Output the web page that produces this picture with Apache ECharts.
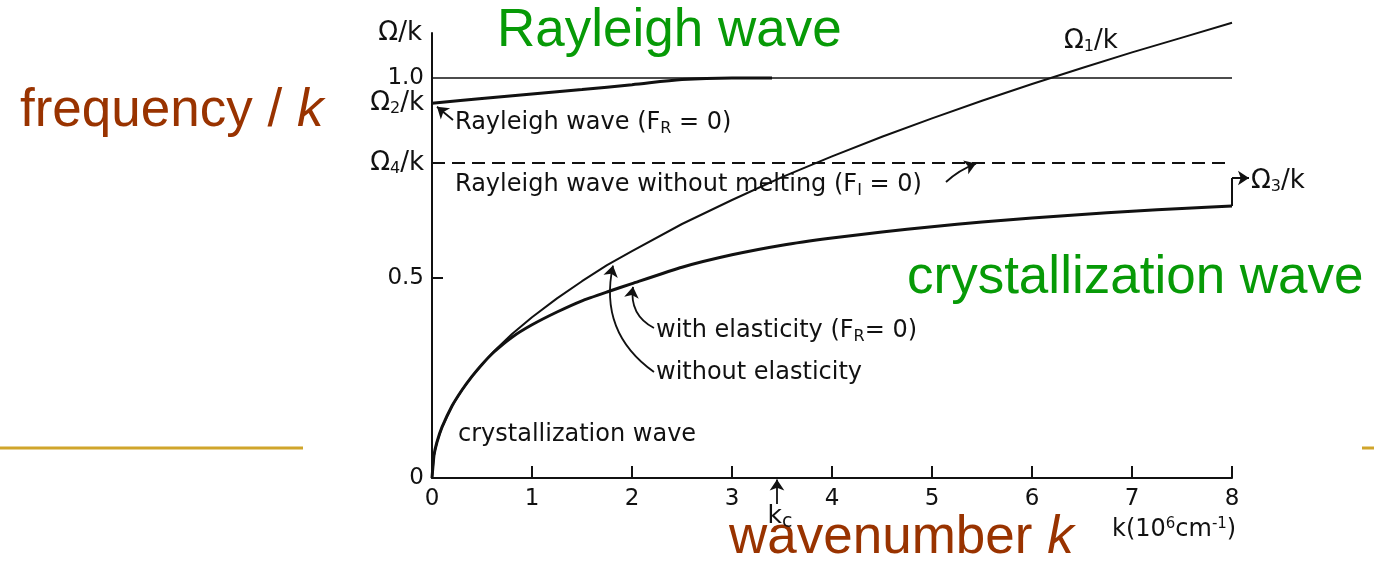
<!DOCTYPE html>
<html>
<head>
<meta charset="utf-8">
<script src="https://cdn.jsdelivr.net/npm/echarts@6/dist/echarts.min.js"></script>
<style>html,body{margin:0;padding:0;background:#fff}#c{width:1374px;height:561px}</style>
</head>
<body>
<div id="c"></div>
<script>
// ---- data ----
const kValues            = [0, 0.02, 0.05, 0.1, 0.2, 0.3, 0.4, 0.5, 0.62, 0.8, 1.0, 1.25, 1.5, 1.75, 2.0, 2.5, 3.0, 3.5, 4.0, 4.5, 5.0, 5.5, 6.0, 6.5, 7.0, 7.5, 8.0];
const withElasticity     = [0, 0.057, 0.09, 0.127, 0.18, 0.22, 0.254, 0.284, 0.315, 0.352, 0.383, 0.415, 0.443, 0.465, 0.486, 0.527, 0.558, 0.582, 0.600, 0.615, 0.628, 0.640, 0.650, 0.659, 0.667, 0.674, 0.680];
const withoutElasticity  = [0, 0.057, 0.09, 0.127, 0.18, 0.22, 0.254, 0.284, 0.317, 0.360, 0.402, 0.449, 0.492, 0.532, 0.567, 0.635, 0.695, 0.752, 0.804, 0.853, 0.899, 0.943, 0.985, 1.025, 1.064, 1.101, 1.138];
const rayleighK          = [0, 0.5, 1.0, 1.5, 2.0, 2.5, 3.0, 3.4];
const rayleighValues     = [0.937, 0.949, 0.960, 0.971, 0.983, 0.996, 1.0, 1.0];
const levelOne    = 1.0;
const omega2      = 0.937;
const omega4      = 0.7875;
const omega3      = 0.75;
const kc          = 3.45;
const xTickLabels = ['0','1','2','3','4','5','6','7','8'];
const yLabelValues = [0, 0.5, omega4, omega2, levelOne];

const FONT = 'DejaVu Sans';
const INK = '#111111';
const GREEN = '#079a07';
const BROWN = '#993300';
const GOLD = '#d0a52b';

const pairs = (xs, ys) => xs.map((x, i) => [x, ys[i]]);
const lastLow = withElasticity[withElasticity.length - 1];

const axisRich = {
  o: { fontFamily: FONT, fontSize: 23, color: INK },
  w: { fontFamily: FONT, fontSize: 26, color: INK },
  s: { fontFamily: FONT, fontSize: 16, color: INK, padding: [11, 0, 0, 0] }
};
const annRich = {
  o: { fontFamily: FONT, fontSize: 24, fill: INK },
  w: { fontFamily: FONT, fontSize: 26, fill: INK },
  k: { fontFamily: FONT, fontSize: 25, fill: INK },
  s: { fontFamily: FONT, fontSize: 16, fill: INK, padding: [11, 0, 0, 0] },
  c: { fontFamily: FONT, fontSize: 19, fill: INK, padding: [13, 0, 0, 0] },
  p: { fontFamily: FONT, fontSize: 15, fill: INK, padding: [0, 0, 12, 0] }
};
const bigRich = {
  a: { fontFamily: 'Liberation Sans', fontSize: 53, fill: BROWN },
  b: { fontFamily: 'Liberation Sans', fontSize: 53, fontStyle: 'italic', fill: BROWN }
};

const chart = echarts.init(document.getElementById('c'), null, { renderer: 'canvas' });

const option = {
  animation: false,
  backgroundColor: '#ffffff',
  grid: { left: 432, right: 142, top: 33, bottom: 83, containLabel: false },
  xAxis: {
    type: 'value', min: 0, max: 8, interval: 1,
    axisLine: { lineStyle: { color: INK, width: 2 } },
    axisTick: { inside: true, length: 12, lineStyle: { color: INK, width: 2 } },
    axisLabel: { margin: 10, fontSize: 23, fontFamily: FONT, color: INK,
      formatter: v => xTickLabels[Math.round(v)] },
    splitLine: { show: false }
  },
  yAxis: {
    type: 'value', min: 0, max: 1.1125,
    name: '{w|Ω/k}', nameLocation: 'end', nameGap: 0,
    nameTextStyle: { align: 'right', verticalAlign: 'middle', padding: [0, 10, 0, 0], rich: axisRich },
    axisLine: { show: true, onZero: false, lineStyle: { color: INK, width: 2 } },
    axisTick: { show: true, inside: true, length: 11, customValues: [0.5], lineStyle: { color: INK, width: 2 } },
    axisLabel: {
      margin: 8, fontSize: 23, fontFamily: FONT, color: INK, customValues: yLabelValues,
      formatter: v => {
        if (Math.abs(v - levelOne) < 1e-6) return '{o|1.0}';
        if (Math.abs(v - omega2) < 1e-6) return '{w|Ω}{s|2}{w|/k}';
        if (Math.abs(v - omega4) < 1e-6) return '{w|Ω}{s|4}{w|/k}';
        if (Math.abs(v - 0.5) < 1e-6) return '{o|0.5}';
        return '{o|0}';
      },
      rich: axisRich
    },
    splitLine: { show: false }
  },
  series: [
    { type: 'line', name: 'unity', data: [[0, levelOne], [8, levelOne]], symbol: 'none',
      lineStyle: { color: INK, width: 1.6 } },
    { type: 'line', name: 'omega4', data: [[0, omega4], [8, omega4]], symbol: 'none',
      lineStyle: { color: INK, width: 2, type: [13, 7] } },
    { type: 'line', name: 'rayleigh', data: pairs(rayleighK, rayleighValues), symbol: 'none', smooth: 0.3,
      lineStyle: { color: INK, width: 3 } },
    { type: 'line', name: 'without elasticity', data: pairs(kValues, withoutElasticity), symbol: 'none',
      smooth: false, clip: false, lineStyle: { color: INK, width: 2, join: 'round' } },
    { type: 'line', name: 'with elasticity', data: pairs(kValues, withElasticity), symbol: 'none',
      smooth: 0.15, clip: false, lineStyle: { color: INK, width: 3 } },
    { type: 'line', name: 'omega3 step', data: [[8, lastLow], [8, omega3]], symbol: 'none', clip: false,
      lineStyle: { color: INK, width: 2 } },
    { type: 'lines', coordinateSystem: 'cartesian2d', clip: false,
      symbol: ['none', 'arrow'], symbolSize: [8, 11],
      lineStyle: { color: INK, width: 1.8, opacity: 1 },
      data: [
        { coords: [[8, omega3], [8.17, omega3]], lineStyle: { curveness: 0, width: 2 } },
        { coords: [[0.21, 0.895], [0.05, 0.928]], lineStyle: { curveness: 0 } },
        { coords: [[5.14, 0.74], [5.44, 0.786]], lineStyle: { curveness: 0.1 } },
        { coords: [[2.22, 0.375], [2.01, 0.478]], lineStyle: { curveness: 0.35 } },
        { coords: [[2.22, 0.265], [1.81, 0.531]], lineStyle: { curveness: 0.33 } },
        { coords: [[kc, -0.065], [kc, -0.004]], lineStyle: { curveness: 0 } }
      ] }
  ],
  graphic: [
    { type: 'line', shape: { x1: 0, y1: 448, x2: 303, y2: 448 }, style: { stroke: GOLD, lineWidth: 3 } },
    { type: 'line', shape: { x1: 1362, y1: 448, x2: 1374, y2: 448 }, style: { stroke: GOLD, lineWidth: 3 } },
    { type: 'text', x: 497, y: 31, style: { text: 'Rayleigh wave', fontFamily: 'Liberation Sans', fontSize: 53, fill: GREEN, textAlign: 'left', textVerticalAlign: 'middle' } },
    { type: 'text', x: 907, y: 278, style: { text: 'crystallization wave', fontFamily: 'Liberation Sans', fontSize: 53, fill: GREEN, textAlign: 'left', textVerticalAlign: 'middle' } },
    { type: 'text', x: 20, y: 111, style: { text: '{a|frequency / }{b|k}', textAlign: 'left', textVerticalAlign: 'middle', rich: bigRich } },
    { type: 'text', x: 729, y: 538, style: { text: '{a|wavenumber }{b|k}', textAlign: 'left', textVerticalAlign: 'middle', rich: bigRich } },
    { type: 'text', x: 455, y: 123, style: { text: '{o|Rayleigh wave (F}{s|R}{o| = 0)}', textAlign: 'left', textVerticalAlign: 'middle', rich: annRich } },
    { type: 'text', x: 455, y: 185, style: { text: '{o|Rayleigh wave without melting (F}{s|I}{o| = 0)}', textAlign: 'left', textVerticalAlign: 'middle', rich: annRich } },
    { type: 'text', x: 656, y: 331, style: { text: '{o|with elasticity (F}{s|R}{o|= 0)}', textAlign: 'left', textVerticalAlign: 'middle', rich: annRich } },
    { type: 'text', x: 656, y: 373, style: { text: 'without elasticity', fontFamily: FONT, fontSize: 24, fill: INK, textAlign: 'left', textVerticalAlign: 'middle' } },
    { type: 'text', x: 458, y: 435, style: { text: 'crystallization wave', fontFamily: FONT, fontSize: 24, fill: INK, textAlign: 'left', textVerticalAlign: 'middle' } },
    { type: 'text', x: 1064, y: 41, style: { text: '{w|Ω}{s|1}{w|/k}', textAlign: 'left', textVerticalAlign: 'middle', rich: annRich } },
    { type: 'text', x: 1251, y: 181, style: { text: '{w|Ω}{s|3}{w|/k}', textAlign: 'left', textVerticalAlign: 'middle', rich: annRich } },
    { type: 'text', x: 780, y: 516, style: { text: '{k|k}{c|c}', textAlign: 'center', textVerticalAlign: 'middle', rich: annRich } },
    { type: 'text', x: 1112, y: 530, style: { text: '{o|k(10}{p|6}{o|cm}{p|-1}{o|)}', textAlign: 'left', textVerticalAlign: 'middle', rich: annRich } }
  ]
};

chart.setOption(option);
</script>
</body>
</html>
